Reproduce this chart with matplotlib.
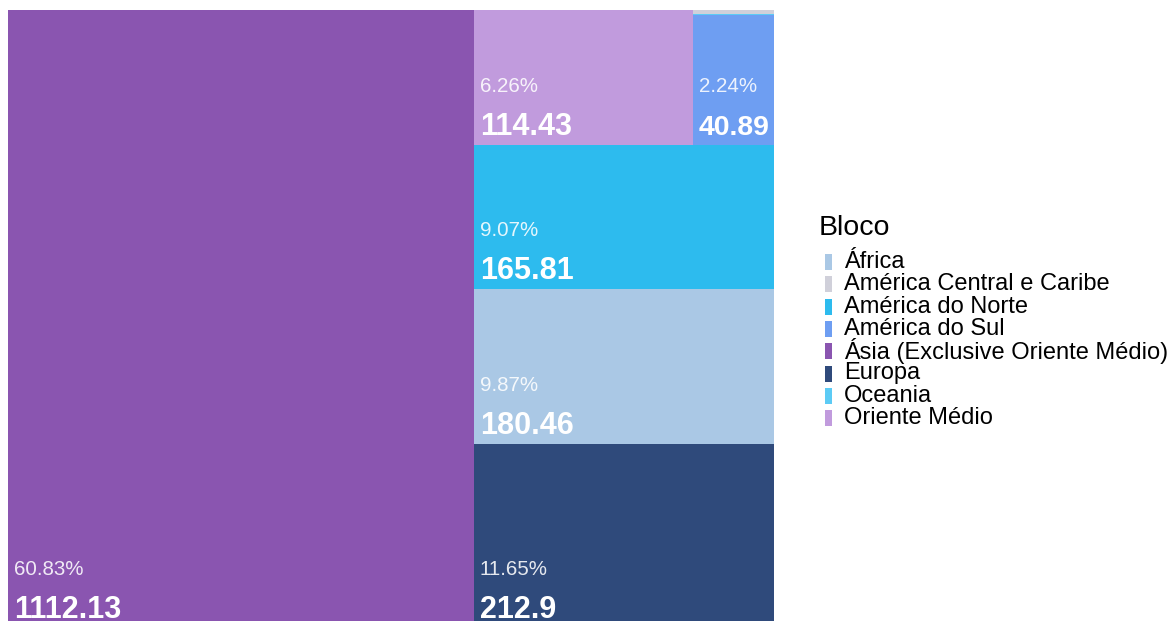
import matplotlib
matplotlib.use("Agg")
import matplotlib.pyplot as plt
from matplotlib.patches import Rectangle
from matplotlib.transforms import offset_copy

plt.rcParams['font.family'] = ['Liberation Sans', 'DejaVu Sans']

# dados (valores por bloco)
blocos = ['África', 'América Central e Caribe', 'América do Norte', 'América do Sul',
          'Ásia (Exclusive Oriente Médio)', 'Europa', 'Oceania', 'Oriente Médio']
valores = [180.46, 1.38, 165.81, 40.89, 1112.13, 212.9, 0.22, 114.43]
cores = ['#AAC8E5', '#D0D0DA', '#2DBBEE', '#6E9EF2', '#8A55B0', '#2F4A7B', '#5CCBF5', '#C19BDD']

val = dict(zip(blocos, valores))
total = sum(valores)

fig = plt.figure(figsize=(11.76, 6.21), dpi=100)
FW, FH = 1176, 621
# area do treemap em pixels (parte de baixo cortada como no original)
x0p, y0p, W, H = 8, 10, 766, 618
ax = fig.add_axes([x0p / FW, (FH - y0p - H) / FH, W / FW, H / FH])
ax.set_xlim(0, W)
ax.set_ylim(0, H)
ax.axis('off')

# layout: coluna da Asia, depois fatias de baixo pra cima na coluna restante
rects = {}
asia = 'Ásia (Exclusive Oriente Médio)'
wa = W * val[asia] / total
rects[asia] = (0, 0, wa, H)
resto = total - val[asia]
rw = W - wa
y = 0
for b in ['Europa', 'África', 'América do Norte']:
    h = H * val[b] / resto
    rects[b] = (wa, y, rw, h)
    y += h
top_h = H - y
top_tot = val['Oriente Médio'] + val['América do Sul'] + val['América Central e Caribe'] + val['Oceania']
wom = rw * val['Oriente Médio'] / top_tot
rects['Oriente Médio'] = (wa, y, wom, top_h)
cw = rw - wom
col_tot = top_tot - val['Oriente Médio']
yy = y
for b in ['América do Sul', 'Oceania', 'América Central e Caribe']:
    h = top_h * val[b] / col_tot
    rects[b] = (wa + wom, yy, cw, h)
    yy += h

fig.canvas.draw()
renderer = fig.canvas.get_renderer()

for b, c in zip(blocos, cores):
    rx, ry, rw_, rh = rects[b]
    ax.add_patch(Rectangle((rx, ry), rw_, rh, facecolor=c, edgecolor='none'))
    if rh < 60:
        continue
    pct = f"{100 * val[b] / total:.2f}%"
    tv = offset_copy(ax.transData, fig=fig, x=6, y=10, units='dots')
    tp = offset_copy(ax.transData, fig=fig, x=6, y=53, units='dots')
    t1 = ax.text(rx, ry, f"{val[b]:g}", transform=tv, color='white', fontsize=22,
                 fontweight='bold', ha='left', va='baseline')
    t2 = ax.text(rx, ry, pct, transform=tp, color='white', alpha=0.88, fontsize=14.8,
                 ha='left', va='baseline')
    for t in (t1, t2):
        wpx = t.get_window_extent(renderer).width
        if wpx > rw_ - 10:
            t.set_fontsize(t.get_fontsize() * (rw_ - 10) / wpx)

# legenda
def fx(px):
    return px / FW

def fy(py):
    return 1 - py / FH

fig.text(fx(819), fy(228), 'Bloco', fontsize=20.5, ha='left', va='center')
for i, (b, c) in enumerate(zip(blocos, cores)):
    yc = 262 + i * 22.3
    fig.add_artist(Rectangle((fx(825), fy(yc + 8)), 7 / FW, 16 / FH, facecolor=c,
                             edgecolor='none', transform=fig.transFigure))
    fig.text(fx(844), fy(yc), b, fontsize=17, ha='left', va='center')

fig.savefig('out.png', dpi=100)
